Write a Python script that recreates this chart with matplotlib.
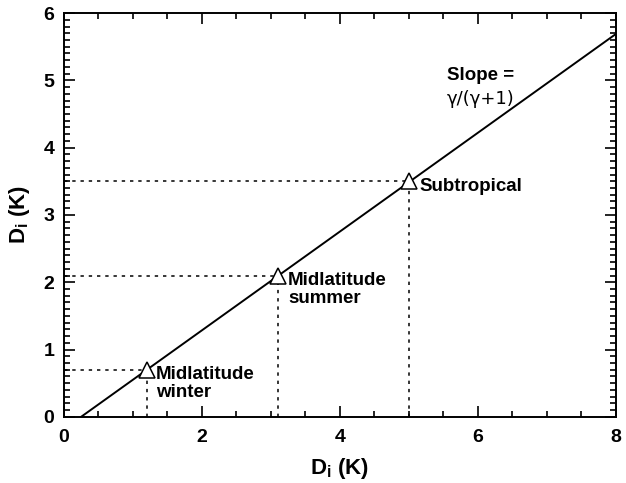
import matplotlib
matplotlib.use("Agg")
import matplotlib.pyplot as plt
from matplotlib.ticker import MultipleLocator

plt.rcParams['font.family'] = ['Liberation Sans', 'DejaVu Sans']
plt.rcParams['mathtext.fontset'] = 'custom'
plt.rcParams['mathtext.bf'] = 'Liberation Sans:bold'
plt.rcParams['mathtext.rm'] = 'Liberation Sans'

# Regime points (x = D_i, y = D_t)
regimes = ["Midlatitude\nwinter", "Midlatitude\nsummer", "Subtropical"]
regime_x = [1.2, 3.1, 5.0]
regime_y = [0.70, 2.10, 3.50]
label_dx = [0.13, 0.15, 0.16]

# Reference line end points
line_x = [0.25, 8.0]
line_y = [0.0, 5.69]

fig = plt.figure(figsize=(6.26, 4.83), dpi=100)
ax = fig.add_axes([0.102, 0.137, 0.882, 0.836])

ax.plot(line_x, line_y, color='black', lw=1.4, zorder=3)

dash = (0, (2.2, 3.2))
for x, y in zip(regime_x, regime_y):
    ax.plot([0, x], [y, y], color='black', lw=1.1, linestyle=dash)
    ax.plot([x, x], [0, y], color='black', lw=1.1, linestyle=dash)

ax.plot(regime_x, regime_y, linestyle='none', marker='^', markersize=12,
        markerfacecolor='white', markeredgecolor='black', markeredgewidth=1.1,
        zorder=4)

for name, x, y, dx in zip(regimes, regime_x, regime_y, label_dx):
    ax.text(x + dx, y + 0.05, name, fontsize=13.5, fontweight='bold',
            ha='left', va='top', linespacing=1.05, zorder=5)

ax.text(6.04, 5.20, "Slope =", fontsize=13.5, fontweight='bold',
        ha='center', va='top')
ax.text(6.04, 4.85, "γ/(γ+1)", fontsize=13, family='DejaVu Sans',
        ha='center', va='top')

ax.set_xlim(0, 8)
ax.set_ylim(0, 6)
ax.xaxis.set_major_locator(MultipleLocator(2))
ax.xaxis.set_minor_locator(MultipleLocator(0.5))
ax.yaxis.set_major_locator(MultipleLocator(1))
ax.yaxis.set_minor_locator(MultipleLocator(0.1))
ax.tick_params(which='both', direction='in', top=True, right=True,
               width=1.2)
ax.tick_params(which='major', length=8, labelsize=14)
ax.tick_params(which='minor', length=4)
ax.tick_params(axis='x', which='major', pad=9)
ax.tick_params(axis='y', which='major', pad=7)
for lab in ax.get_xticklabels() + ax.get_yticklabels():
    lab.set_fontweight('bold')
for s in ax.spines.values():
    s.set_linewidth(1.4)

ax.set_xlabel(r'$\mathbf{D_i}$ (K)', fontsize=16, fontweight='bold', labelpad=7)
ax.set_ylabel(r'$\mathbf{D_i}$ (K)', fontsize=16, fontweight='bold', labelpad=8)

fig.savefig("out.png", dpi=100)
